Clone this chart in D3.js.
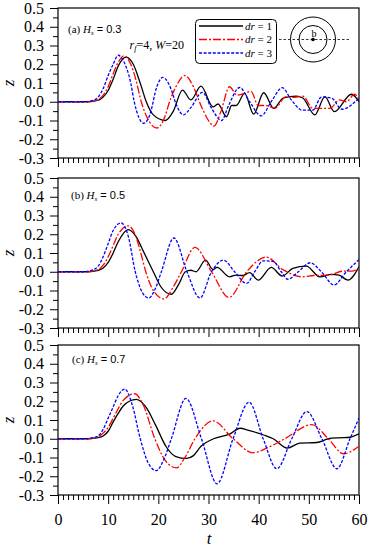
<!DOCTYPE html>
<html><head><meta charset="utf-8">
<script src="https://cdn.jsdelivr.net/npm/d3@7"></script>
<style>body{margin:0;background:#fff}svg{display:block}</style>
</head><body>
<script>
// ---------- data ----------
const xTicks = [0,10,20,30,40,50,60];
const xTickLabels = ["0","10","20","30","40","50","60"];
const yTicks = [-0.3,-0.2,-0.1,0,0.1,0.2,0.3,0.4,0.5];
const yTickLabels = ["-0.3","-0.2","-0.1","0.0","0.1","0.2","0.3","0.4","0.5"];
const seriesNames = ["1","2","3"];
const panelIds = ["(a)","(b)","(c)"];
const hsValues = ["0.3","0.5","0.7"];

// panel (a)
const tA1 = [0,6,8,9,10,11,12,13.6,15,16.5,17.6,19,21.4,23,24.8,26.5,28.5,30.9,31.9,33.6,34.6,35.5,37.2,39.0,41.0,43.0,44.9,47.5,48.8,51.2,53.2,55.1,58.5,60];
const zA1 = [0,0,0.008,0.025,0.06,0.12,0.19,0.238,0.2,0.09,0.0,-0.07,-0.1,-0.05,0.062,0.01,0.083,-0.027,-0.012,-0.08,-0.02,-0.02,0.045,-0.066,0.048,-0.035,0.02,0.03,0.02,-0.07,0.027,-0.053,0.04,0.0];
const tA2 = [0,6,8,9,10,11,12,13.1,14.5,15.5,16.6,18.3,19.7,21,22.5,23.5,25.3,27,28.5,30,31.1,32.5,34.2,35.7,38.5,39.9,41.5,43.2,45.5,46.8,48.8,50.8,54.2,56.1,57.5,59.1,60];
const zA2 = [0,0,0.012,0.035,0.08,0.15,0.21,0.245,0.2,0.12,0.0,-0.11,-0.14,-0.1,0.02,0.08,0.14,0.08,-0.02,-0.1,-0.13,-0.05,0.08,0.035,0.055,-0.02,-0.02,-0.035,0.027,0.023,0.03,-0.035,-0.035,0.01,0.0,0.04,0.01];
const tA3 = [0,5,7,8,9,10,11,12,13,14.5,15.2,17.1,18.3,19.7,20.9,22.5,23.5,25,26.5,28.8,30.5,32.6,34,36.2,38.2,40.5,42.5,44.7,46.5,48.7,50.8,52.5,54.5,56.6,60];
const zA3 = [0,0,0.008,0.025,0.07,0.14,0.2,0.248,0.22,0.1,0.0,-0.115,-0.07,0.08,0.13,0.07,-0.01,-0.07,-0.03,0.05,-0.03,-0.1,-0.02,0.076,0.0,-0.075,0.0,0.075,0.01,-0.045,-0.045,0.025,0.02,-0.04,0.02];

// panel (b)
const tB1 = [0,6,8,9,10,11,12,14,15.5,17,19,20.5,22.6,24,25.4,26.5,27.5,29.4,30.9,31.7,34.2,35.5,36.8,38.2,39.9,42.5,44.7,46.8,49.5,52.2,54.5,56,57.8,60];
const zB1 = [0,0,0.007,0.02,0.05,0.1,0.16,0.225,0.19,0.11,0.0,-0.08,-0.12,-0.07,0.0,0.008,0.0,0.062,0.012,0.023,-0.027,-0.018,-0.02,-0.005,-0.045,0.023,-0.023,0.018,0.03,-0.027,-0.014,-0.018,-0.045,0.027];
const tB2 = [0,6,8,9,10,11,12,14,15.5,16.5,17.5,19,21.1,23,24.6,27.3,30.6,34.1,37.6,41.5,44.9,48.7,51,54,56.8,58.5,60];
const zB2 = [0,0,0.012,0.035,0.08,0.14,0.2,0.245,0.19,0.1,0.0,-0.1,-0.145,-0.08,0.0,0.13,0.0,-0.137,0.0,0.078,0.01,-0.027,-0.02,-0.018,0.003,0.003,0.018];
const tB3 = [0,5,7,8,9,10,11,12.6,14,15.4,16.8,18.1,19.4,20.6,23.1,25.7,28.3,30.6,33,35.2,37.6,39.2,40.9,42.9,44.5,45.8,47.9,50.3,52.5,55,57.5,60];
const zB3 = [0,0,0.01,0.03,0.08,0.15,0.22,0.26,0.19,0.0,-0.11,-0.14,-0.09,0.0,0.18,0.0,-0.14,0.0,0.062,0.0,-0.062,0.0,0.058,0.055,0.0,-0.04,0.0,0.048,0.0,-0.07,0.0,0.065];

// panel (c)
const tC1 = [0,6,8,9,10,11,12,13,15.6,17.5,19.5,21.5,23.5,25.6,27,28.5,31,34.3,36.3,38,41,42.9,45.7,48.2,51.6,53.9,56,58.2,60];
const zC1 = [0,0,0.006,0.015,0.04,0.09,0.135,0.175,0.21,0.17,0.07,-0.04,-0.095,-0.105,-0.09,-0.04,0.0,0.026,0.056,0.045,0.02,0.0,-0.05,-0.023,-0.02,0.0,0.005,0.008,0.026];
const tC2 = [0,6,8,9,10,11,12,13,15.3,17,19.3,21.5,23.6,25.3,27.3,30.9,34.9,38.9,42,45.2,50.6,53.9,56.9,60];
const zC2 = [0,0,0.01,0.03,0.06,0.11,0.16,0.205,0.24,0.18,0.0,-0.12,-0.155,-0.1,0.0,0.095,0.0,-0.075,-0.045,0.0,0.075,0.0,-0.08,-0.04];
const tC3 = [0,5,7,8,9,10,11,12,13.3,14.8,16.4,18,19.6,21.1,22.6,25.5,28.6,31.7,34.9,38.1,40.9,43.6,46.6,49.6,52.6,55.6,58.2,60];
const zC3 = [0,0,0.006,0.015,0.05,0.11,0.17,0.23,0.265,0.18,0.0,-0.13,-0.17,-0.11,0.0,0.215,0.0,-0.24,0.0,0.195,0.0,-0.16,0.0,0.145,0.0,-0.16,0.0,0.11];

const panelData = [
  [[tA1,zA1],[tA2,zA2],[tA3,zA3]],
  [[tB1,zB1],[tB2,zB2],[tB3,zB3]],
  [[tC1,zC1],[tC2,zC2],[tC3,zC3]]
];

// ---------- styles / layout ----------
const W = 371, H = 550;
const left = 58, right = 359;
const layout = [
  {top:8, bottom:158, lx:68, ly:33},
  {top:178, bottom:328, lx:71, ly:199},
  {top:345, bottom:495, lx:72, ly:363}
];
const colors = ["#000000","#ff0000","#0000ff"];
const dashes = [null,"8,2,2,2","3,1.6"];
const serif = "'Liberation Serif','Times New Roman',serif";
const sans = "'Liberation Sans',Arial,sans-serif";

const svg = d3.select("body").append("svg").attr("width",W).attr("height",H);
const x = d3.scaleLinear().domain([0,60]).range([left,right]);
const xMinor = d3.range(0,61,1).filter(v => v % 10 !== 0);
const yMinor = d3.range(-0.25,0.5,0.1).map(v => +v.toFixed(2));

layout.forEach((L, pi) => {
  const y = d3.scaleLinear().domain([-0.3,0.5]).range([L.bottom, L.top]);
  const g = svg.append("g");

  // axes
  const yAx = g.append("g").attr("transform",`translate(${left},0)`)
    .call(d3.axisLeft(y).tickValues(yTicks).tickSize(8).tickPadding(6)
      .tickFormat((d,i) => yTickLabels[i]));
  yAx.select(".domain").remove();
  yAx.selectAll("text").attr("font-family",serif).attr("font-size",16).attr("fill","#000");
  const yAxM = g.append("g").attr("transform",`translate(${left},0)`)
    .call(d3.axisLeft(y).tickValues(yMinor).tickSize(5).tickFormat(""));
  yAxM.select(".domain").remove();

  const xAx = g.append("g").attr("transform",`translate(0,${L.bottom})`)
    .call(d3.axisBottom(x).tickValues(xTicks).tickSize(9).tickPadding(10)
      .tickFormat((d,i) => pi === 2 ? xTickLabels[i] : ""));
  xAx.select(".domain").remove();
  xAx.selectAll("text").attr("font-family",serif).attr("font-size",16).attr("fill","#000");
  const xAxM = g.append("g").attr("transform",`translate(0,${L.bottom})`)
    .call(d3.axisBottom(x).tickValues(xMinor).tickSize(5).tickFormat(""));
  xAxM.select(".domain").remove();
  g.selectAll(".tick line").attr("stroke","#000").attr("stroke-width",1);

  // frame
  g.append("rect").attr("x",left).attr("y",L.top).attr("width",right-left).attr("height",L.bottom-L.top)
    .attr("fill","none").attr("stroke","#000").attr("stroke-width",1.2);

  // clip
  const cid = "clip"+pi;
  svg.append("clipPath").attr("id",cid).append("rect")
    .attr("x",left).attr("y",L.top).attr("width",right-left).attr("height",L.bottom-L.top);

  const line = d3.line().x(d => x(d[0])).y(d => y(d[1])).curve(d3.curveMonotoneX);
  const plot = g.append("g").attr("clip-path",`url(#${cid})`);
  panelData[pi].forEach((s, si) => {
    const pts = s[0].map((t,i) => [t, s[1][i]]);
    plot.append("path").datum(pts).attr("d",line)
      .attr("fill","none").attr("stroke",colors[si]).attr("stroke-width",1.3)
      .attr("stroke-dasharray",dashes[si]);
  });
  // draw in order black last on top? keep order: black, red, blue

  // panel label
  const lab = g.append("text").attr("x",L.lx).attr("y",L.ly).attr("font-size",11).attr("fill","#000");
  lab.append("tspan").attr("font-family",serif).text(panelIds[pi]+" ");
  lab.append("tspan").attr("font-family",serif).attr("font-style","italic").text("H");
  lab.append("tspan").attr("font-family",serif).attr("font-style","italic").attr("font-size",7).attr("dy",2).text("s");
  lab.append("tspan").attr("font-family",sans).attr("dy",-2).text(" = "+hsValues[pi]);

  // z label
  g.append("text").attr("transform",`translate(14,${(L.top+L.bottom)/2}) rotate(-90)`)
    .attr("text-anchor","middle").attr("font-family",serif).attr("font-style","italic")
    .attr("font-size",17).text("z");
});

// t label
svg.append("text").attr("x",209).attr("y",544).attr("text-anchor","middle")
  .attr("font-family",serif).attr("font-style","italic").attr("font-size",17).text("t");

// parameter text
const pt = svg.append("text").attr("x",184).attr("y",49).attr("text-anchor","end")
  .attr("font-family",serif).attr("font-size",12);
pt.append("tspan").attr("font-style","italic").text("r");
pt.append("tspan").attr("font-style","italic").attr("font-size",8).attr("dy",2).text("f");
pt.append("tspan").attr("dy",-2).text("=4, ");
pt.append("tspan").attr("font-style","italic").text("W");
pt.append("tspan").text("=20");

// legend
svg.append("rect").attr("x",195.5).attr("y",19.5).attr("width",81).attr("height",44).attr("rx",4)
  .attr("fill","#fff").attr("stroke","#000").attr("stroke-width",1);
const legY = [26,39.5,53];
seriesNames.forEach((n,i) => {
  svg.append("line").attr("x1",199).attr("x2",243).attr("y1",legY[i]).attr("y2",legY[i])
    .attr("stroke",colors[i]).attr("stroke-width",1.3).attr("stroke-dasharray",dashes[i]);
  const t = svg.append("text").attr("x",272).attr("y",legY[i]+3.5).attr("text-anchor","end")
    .attr("font-family",serif).attr("font-size",11);
  t.append("tspan").attr("font-style","italic").text("dr");
  t.append("tspan").text(" = "+n);
});

// geometry sketch
const cx = 313, cy = 39.5;
svg.append("line").attr("x1",279).attr("x2",350).attr("y1",cy).attr("y2",cy)
  .attr("stroke","#000").attr("stroke-width",0.8).attr("stroke-dasharray","2.5,2");
svg.append("circle").attr("cx",cx).attr("cy",cy).attr("r",22.5).attr("fill","none").attr("stroke","#000").attr("stroke-width",1);
svg.append("circle").attr("cx",cx).attr("cy",cy).attr("r",14).attr("fill","none").attr("stroke","#000").attr("stroke-width",1);
svg.append("circle").attr("cx",cx).attr("cy",cy).attr("r",1.8).attr("fill","#000");
svg.append("text").attr("x",cx+1).attr("y",cy-3).attr("text-anchor","middle")
  .attr("font-family",serif).attr("font-size",10).text("b");
</script>
</body></html>
